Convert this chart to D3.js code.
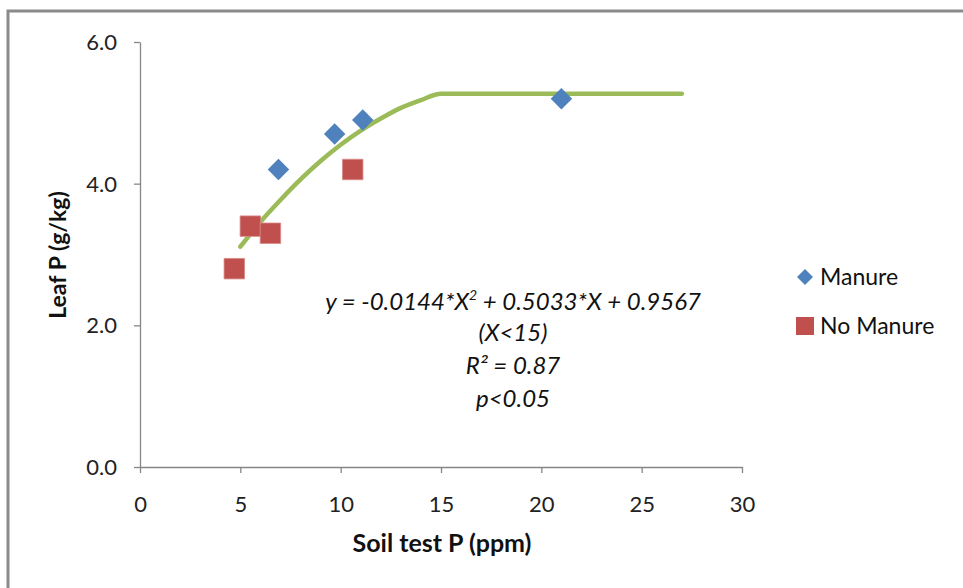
<!DOCTYPE html>
<html>
<head>
<meta charset="utf-8">
<script src="https://cdn.jsdelivr.net/npm/d3@7"></script>
<style>
  body { margin: 0; background: #fff; }
  svg { display: block; font-family: Lato, "Open Sans", sans-serif; }
</style>
</head>
<body>
<div id="chart"></div>
<script>
// values
const manureX = [6.9, 9.7, 11.1, 21.0];
const manureY = [4.2, 4.7, 4.9, 5.2];
const noManureX = [4.7, 5.5, 6.5, 10.6];
const noManureY = [2.8, 3.4, 3.3, 4.2];
// fitted plateau curve as drawn
const fitX = [5, 6, 7, 8, 9, 10, 11, 12, 13, 14, 15, 15.6, 27];
const fitY = [3.11, 3.46, 3.77, 4.06, 4.32, 4.55, 4.75, 4.92, 5.07, 5.18, 5.27, 5.27, 5.27];
const xTicks = [0, 5, 10, 15, 20, 25, 30];
const yTicks = [0, 2, 4, 6];
const seriesNames = ["Manure", "No Manure"];
const eqLines = ["(X<15)", "R² = 0.87", "p<0.05"];

const width = 963, height = 588;
const margin = { left: 140, right: 222, top: 42, bottom: 121 };

const svg = d3.select("#chart").append("svg")
  .attr("width", width)
  .attr("height", height);

// partial frame, only top and left visible
svg.append("path")
  .attr("d", `M8,${height} V11 H${width}`)
  .attr("fill", "none")
  .attr("stroke", "#8a8a8a")
  .attr("stroke-width", 3);

const x = d3.scaleLinear().domain([0, 30]).range([margin.left, width - margin.right + 1]);
const y = d3.scaleLinear().domain([0, 6]).range([height - margin.bottom, margin.top]);

const xAxis = svg.append("g")
  .attr("transform", `translate(0,${y(0)})`)
  .call(d3.axisBottom(x).tickValues(xTicks).tickSize(6).tickSizeOuter(0).tickPadding(23));
const yAxis = svg.append("g")
  .attr("transform", `translate(${x(0)},0)`)
  .call(d3.axisLeft(y).tickValues(yTicks).tickFormat(d3.format(".1f")).tickSize(6).tickSizeOuter(0).tickPadding(17));

[xAxis, yAxis].forEach(g => {
  g.select(".domain").attr("stroke", "#868686").attr("stroke-width", 1.3);
  g.selectAll(".tick line").attr("stroke", "#868686").attr("stroke-width", 1.3);
  g.selectAll(".tick text")
    .attr("fill", "#222")
    .attr("font-size", 22)
    .attr("font-family", "Lato, sans-serif");
});
yAxis.selectAll(".tick text").attr("dy", "0.34em");

svg.append("text")
  .attr("x", 442).attr("y", 552)
  .attr("text-anchor", "middle")
  .attr("font-weight", "bold")
  .attr("font-size", 25)
  .attr("fill", "#111")
  .text("Soil test P (ppm)");

svg.append("text")
  .attr("transform", "translate(66,255) rotate(-90)")
  .attr("text-anchor", "middle")
  .attr("font-weight", "bold")
  .attr("font-size", 23)
  .attr("fill", "#111")
  .text("Leaf P (g/kg)");

// fitted curve
const line = d3.line()
  .x(d => x(d[0]))
  .y(d => y(d[1]))
  .curve(d3.curveMonotoneX);
svg.append("path")
  .datum(d3.zip(fitX, fitY))
  .attr("d", line)
  .attr("fill", "none")
  .attr("stroke", "#9bbb59")
  .attr("stroke-width", 4.5)
  .attr("stroke-linecap", "round");

const diamond = d3.symbol().type(d3.symbolSquare).size(230);
const square = d3.symbol().type(d3.symbolSquare).size(420);

svg.append("g").selectAll("path")
  .data(d3.zip(noManureX, noManureY))
  .join("path")
  .attr("d", square)
  .attr("transform", d => `translate(${x(d[0])},${y(d[1])})`)
  .attr("fill", "#c0504d")
  .attr("stroke", "#d88a88")
  .attr("stroke-width", 0.8);

svg.append("g").selectAll("path")
  .data(d3.zip(manureX, manureY))
  .join("path")
  .attr("d", diamond)
  .attr("transform", d => `translate(${x(d[0])},${y(d[1])}) rotate(45)`)
  .attr("fill", "#4f81bd");

// equation annotation
const eq = svg.append("g")
  .attr("font-style", "italic")
  .attr("font-size", 24)
  .attr("fill", "#111")
  .attr("text-anchor", "middle");
const eqMain = eq.append("text").attr("x", 513).attr("y", 310);
eqMain.append("tspan").text("y = -0.0144*X");
eqMain.append("tspan").attr("font-size", 14).attr("dy", -10).text("2");
eqMain.append("tspan").attr("dy", 10).text(" + 0.5033*X + 0.9567");
eq.selectAll("text.sub")
  .data(eqLines)
  .join("text")
  .attr("class", "sub")
  .attr("x", 513)
  .attr("y", (d, i) => 341 + i * 33)
  .text(d => d);

// legend
const legend = svg.append("g").attr("transform", "translate(805,277)");
const items = legend.selectAll("g")
  .data(seriesNames)
  .join("g")
  .attr("transform", (d, i) => `translate(0,${i * 49})`);
items.append("path")
  .attr("d", (d, i) => d3.symbol().type(d3.symbolSquare).size(i === 0 ? 128 : 324)())
  .attr("transform", (d, i) => i === 0 ? "rotate(45)" : null)
  .attr("fill", (d, i) => i === 0 ? "#4f81bd" : "#c0504d");
items.append("text")
  .attr("x", 15)
  .attr("dy", "0.35em")
  .attr("font-size", 23)
  .attr("fill", "#111")
  .text(d => d);
</script>
</body>
</html>
